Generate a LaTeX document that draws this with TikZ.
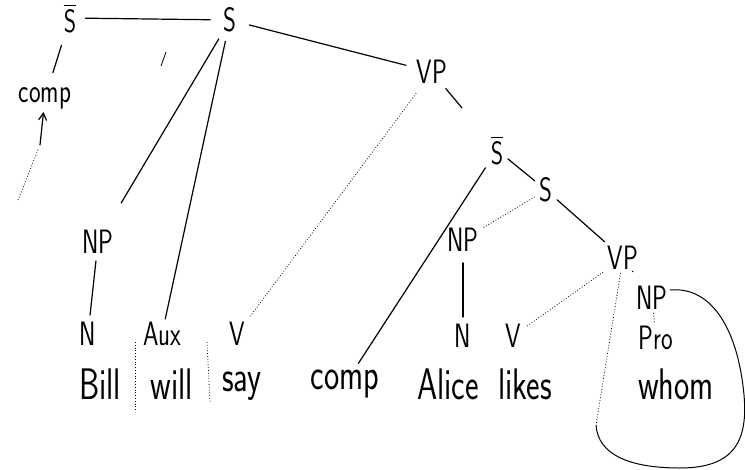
\documentclass[tikz,border=0pt]{standalone}
\usepackage{amsmath}
\usepackage{xcolor}
\usepackage{tikz}
\usetikzlibrary{arrows.meta}

\newcommand{\tall}[1]{\scalebox{0.95}[1.3]{#1}}

\begin{document}
\begin{tikzpicture}[x=1pt, y=-1pt, every node/.style={font=\sffamily\fontsize{26}{28}\selectfont, inner sep=3pt},
    word/.style={font=\sffamily\fontsize{34}{36}\selectfont},
    branch/.style={line width=1.2pt, line cap=round},
    trace/.style={line width=0.8pt, dotted}]
      \useasboundingbox (0,0) rectangle (745,469);
      % upper tree
      \node (sbar) at (70,18) {\tall{$\overline{\mathsf{S}}$}};
      \node (s) at (230,20) {\tall{S}};
      \node (vp) at (432,72) {\tall{VP}};
      \node (sbarb) at (497,150) {\tall{$\overline{\mathsf{S}}$}};
      \node (sb) at (546,190) {\tall{S}};
      \node (vpb) at (623,258) {\tall{VP}};
      \node (npc) at (652,298) {\tall{NP}};
      \node (np) at (98,242) {\tall{NP}};
      \node (npb) at (463,240) {\tall{NP}};
      % complementizer on the left
      \node (comp) at (45,98) {\tall{comp}};
      \coordinate (combase) at (40,145);
      \coordinate (comtail) at (18,200);
      % categories
      \node (n) at (88,334) {\tall{N}};
      \node (aux) at (162,334) {\tall{Aux}};
      \node (v) at (237,334) {\tall{V}};
      \node (nb) at (463,336) {\tall{N}};
      \node (vb) at (513,336) {\tall{V}};
      \node (pro) at (656,338) {\tall{Pro}};
      % words
      \node[word] (bill) at (100,384) {\tall{Bill}};
      \node[word] (will) at (172,384) {\tall{will}};
      \node[word] (say) at (242,386) {\tall{say}};
      \node[word] (compw) at (345,384) {\tall{comp}};
      \node[word] (alice) at (448,384) {\tall{Alice}};
      \node[word] (likes) at (525,384) {\tall{likes}};
      \node[word] (whom) at (676,384) {\tall{whom}};
      % solid branches
      \draw[branch, shorten <=6pt, shorten >=10pt] (sbar) -- (s);
      \draw[branch, shorten <=10pt, shorten >=8pt] (s) -- (vp);
      \draw[branch, shorten <=4pt, shorten >=28pt] (s) -- (np);
      \draw[branch, shorten <=6pt] (s) -- (aux);
      \draw[branch, shorten <=10pt, shorten >=12pt] (sbar) -- (comp);
      \draw[branch, shorten <=2pt, shorten >=40pt] (vp) -- (sbarb);
      \draw[branch, shorten <=4pt, shorten >=4pt] (sbarb) -- (compw);
      \draw[branch, shorten <=2pt, shorten >=2pt] (sbarb) -- (sb);
      \draw[branch, shorten <=2pt, shorten >=2pt] (sb) -- (vpb);
      \draw[branch, shorten <=2pt, shorten >=14pt] (vpb) -- (npc);
      \draw[branch, shorten <=4pt, shorten >=4pt] (np) -- (n);
      \draw[branch, shorten <=8pt, shorten >=4pt] (npb) -- (nb);
      \draw[branch, -{Straight Barb[length=7pt,width=8pt]}] (combase) -- (comp);
      % stray tick
      \draw[line width=0.8pt] (166,52) -- (161,66);
      % dotted branches
      \draw[trace, shorten >=4pt] (comtail) -- (combase);
      \draw[trace, shorten <=8pt, shorten >=4pt] (vp) -- (v);
      \draw[trace, shorten <=2pt, shorten >=2pt] (sb) -- (npb);
      \draw[trace, shorten <=2pt, shorten >=2pt] (vpb) -- (vb);
      \draw[trace] (npc) -- (pro);
      \coordinate (gap) at (596,425);
      \draw[trace] (vpb) -- (gap);
      % box round will
      \draw[trace] (135,342) -- (135,412);
      \draw[trace] (207,342) -- (210,402);
      % ring round whom
      \coordinate (ring) at (670,290);
      \draw[line width=1pt] (ring) .. controls (712,286) and (738,330) .. (744,395)
          .. controls (748,440) and (735,468) .. (680,468)
          .. controls (630,468) and (598,455) .. (gap);
    \end{tikzpicture}
\end{document}
